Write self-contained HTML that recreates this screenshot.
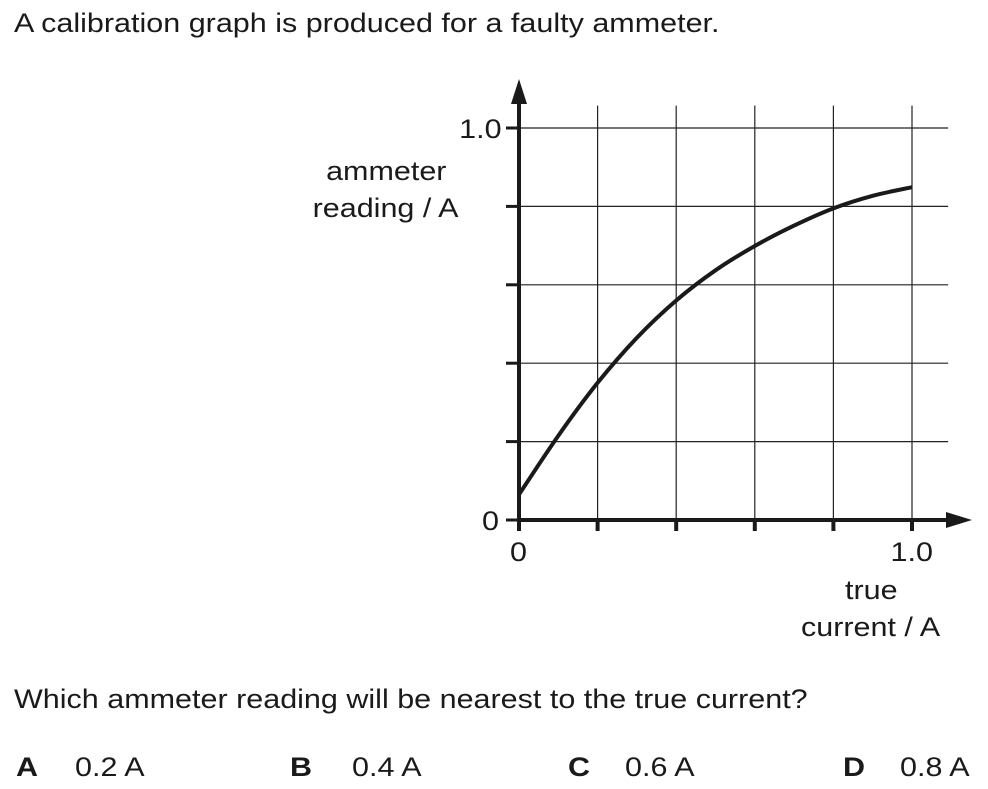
<!DOCTYPE html>
<html><head><meta charset="utf-8"><style>
body{margin:0;background:#fff;width:988px;height:789px;overflow:hidden;font-family:"Liberation Sans",Arial,sans-serif;color:#1a1a1a}
.t{position:absolute;font-size:27px;white-space:nowrap;transform:scaleX(1.13);transform-origin:0 0;line-height:32px}
.c{position:absolute;font-size:27px;white-space:nowrap;line-height:37px;text-align:center;width:300px}
.c span{display:inline-block;transform:scaleX(1.13)}
</style></head><body>
<div class="t" style="left:14px;top:7px">A calibration graph is produced for a faulty ammeter.</div>
<svg id="chart" width="988" height="789" style="position:absolute;left:0;top:0">
</svg>
<div class="c" style="left:236px;top:153px"><span>ammeter</span><br><span>reading / A</span></div>
<div class="c" style="left:721px;top:572px"><span>true</span><br><span>current / A</span></div>
<div class="c" style="left:334px;top:111px;width:168px;text-align:right"><span style="transform-origin:100% 0">1.0</span></div>
<div class="c" style="left:334px;top:503px;width:165px;text-align:right"><span style="transform-origin:100% 0">0</span></div>
<div class="c" style="left:369px;top:534px"><span>0</span></div>
<div class="c" style="left:762px;top:534px"><span>1.0</span></div>
<div class="t" style="left:14px;top:683px">Which ammeter reading will be nearest to the true current?</div>
<div class="t" style="left:16px;top:751px"><b>A</b></div>
<div class="t" style="left:75px;top:751px">0.2 A</div>
<div class="t" style="left:290px;top:751px"><b>B</b></div>
<div class="t" style="left:352px;top:751px">0.4 A</div>
<div class="t" style="left:568px;top:751px"><b>C</b></div>
<div class="t" style="left:625px;top:751px">0.6 A</div>
<div class="t" style="left:843px;top:751px"><b>D</b></div>
<div class="t" style="left:900px;top:751px">0.8 A</div>
<script>
const trueCurrent=[0,0.1,0.2,0.3,0.4,0.5,0.6,0.7,0.8,0.9,1.0];
const reading=[0.065,0.215,0.35,0.465,0.56,0.637,0.699,0.751,0.795,0.827,0.849];
const NS="http://www.w3.org/2000/svg";
const svg=document.getElementById('chart');
const X=v=>519+v*393, Y=v=>520-v*392;
function mk(tag,attrs){const e=document.createElementNS(NS,tag);for(const k in attrs)e.setAttribute(k,attrs[k]);svg.appendChild(e);return e;}
for(let i=1;i<=5;i++){
 let l=mk('line',{x1:X(i*0.2),x2:X(i*0.2),y1:Y(1.057),y2:Y(0),stroke:'#222','stroke-width':1.2});
 
 
 let h=mk('line',{x1:X(0),x2:X(1.092),y1:Y(i*0.2),y2:Y(i*0.2),stroke:'#222','stroke-width':1.2});
 
 
 let tx=mk('line',{x1:X(i*0.2),x2:X(i*0.2),y1:Y(0),y2:Y(0)+11,stroke:'#1a1a1a','stroke-width':4});
 
 
 let ty=mk('line',{x1:X(0)-13,x2:X(0),y1:Y(i*0.2),y2:Y(i*0.2),stroke:'#1a1a1a','stroke-width':3});
 
 
}
let t0=mk('line',{x1:X(0)-13,x2:X(0),y1:Y(0),y2:Y(0),stroke:'#1a1a1a','stroke-width':3});


let xt0=mk('line',{x1:X(0),x2:X(0),y1:Y(0),y2:Y(0)+11,stroke:'#1a1a1a','stroke-width':4});


let ya=mk('line',{x1:X(0),x2:X(0),y1:Y(0)+2,y2:100,stroke:'#1a1a1a','stroke-width':4});


let yar=mk('polygon',{points:`${X(0)-8},104 ${X(0)+8},104 ${X(0)},79`,fill:'#1a1a1a'});


let xa=mk('line',{x1:X(0)-2,x2:950,y1:Y(0),y2:Y(0),stroke:'#1a1a1a','stroke-width':4});


let xar=mk('polygon',{points:`946,${Y(0)-8} 946,${Y(0)+8} 972,${Y(0)}`,fill:'#1a1a1a'});


let d='';
const n=trueCurrent.length;
trueCurrent.forEach((v,i)=>{const px=X(v),py=Y(reading[i]);
 if(i===0){d+=`M${px},${py}`;return;}
 const a=Math.max(0,i-2),b=i-1,e=Math.min(n-1,i+1);
 const p0x=X(trueCurrent[a]),p0y=Y(reading[a]),p1x=X(trueCurrent[b]),p1y=Y(reading[b]);
 const p3x=X(trueCurrent[e]),p3y=Y(reading[e]);
 d+=` C${p1x+(px-p0x)/6},${p1y+(py-p0y)/6} ${px-(p3x-p1x)/6},${py-(p3y-p1y)/6} ${px},${py}`;});
let c=mk('path',{d:d,fill:'none',stroke:'#1a1a1a','stroke-width':4});


</script>
</body></html>
